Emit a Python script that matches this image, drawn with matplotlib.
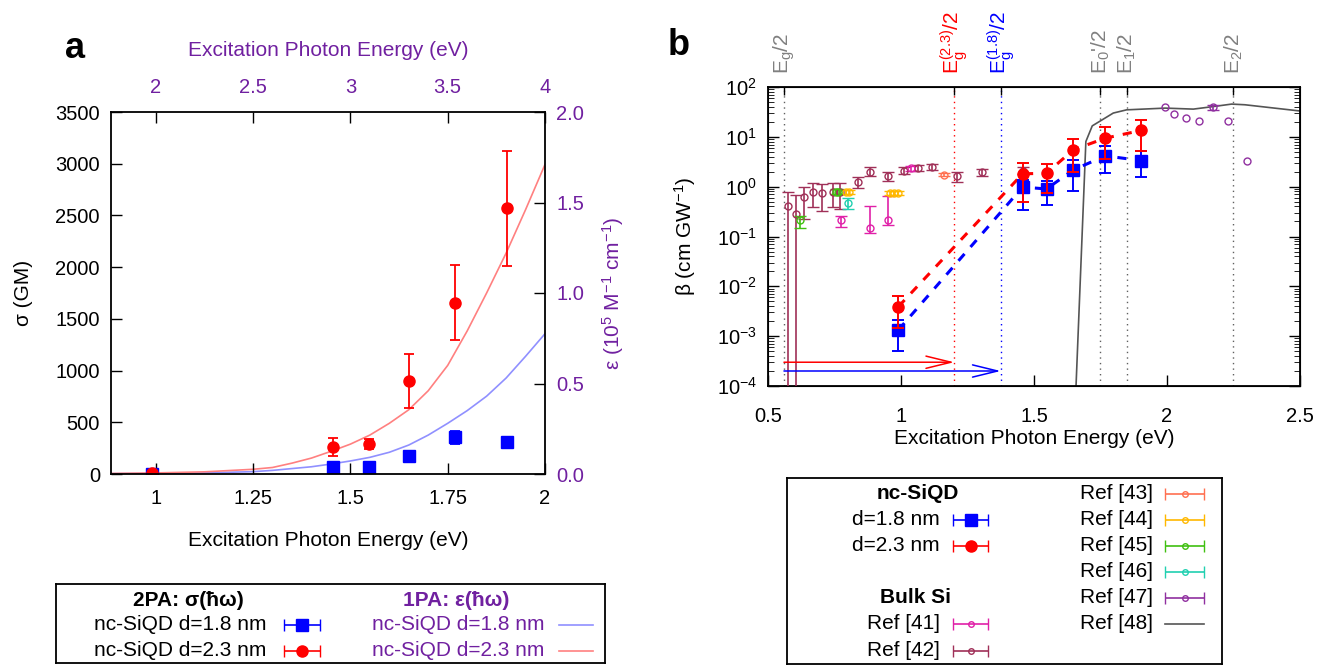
import matplotlib
matplotlib.use("Agg")
import matplotlib.pyplot as plt
import numpy as np

plt.rcParams["font.family"] = ["Liberation Sans", "DejaVu Sans"]
plt.rcParams["mathtext.fontset"] = "custom"
plt.rcParams["mathtext.rm"] = "Liberation Sans"
plt.rcParams["mathtext.it"] = "Liberation Sans:italic"
plt.rcParams["mathtext.bf"] = "Liberation Sans:bold"

PURPLE = "#7020a0"
GRAY = "#808080"
FS = 15
TFS = 14.5

# ---- panel a : 2PA cross section (bottom / left) ----
xa = [0.99, 1.456, 1.547, 1.651, 1.769, 1.903]
sig_18 = [0, 71, 65, 177, 355, 306]
sig_18_err = [5, 15, 15, 20, 65, 40]
sig_23 = [5, 264, 290, 899, 1657, 2570]
sig_23_err = [5, 87, 50, 265, 360, 555]

# ---- panel a : 1PA extinction (top / right) ----
eps_x_23 = [1.77, 2.0, 2.25, 2.5, 2.6, 2.7, 2.8, 2.9, 3.0, 3.1, 3.2, 3.3, 3.4, 3.5, 3.6, 3.7, 3.8, 3.9, 4.0]
eps_23 = [0.003, 0.006, 0.012, 0.026, 0.036, 0.06, 0.088, 0.125, 0.165, 0.215, 0.28, 0.355, 0.46,
          0.6, 0.79, 1.0, 1.22, 1.46, 1.71]
eps_x_18 = [1.77, 2.0, 2.25, 2.5, 2.6, 2.7, 2.8, 2.9, 3.0, 3.1, 3.2, 3.3, 3.4, 3.5, 3.6, 3.7, 3.8, 3.9, 4.0]
eps_18 = [0.002, 0.003, 0.006, 0.013, 0.02, 0.03, 0.04, 0.055, 0.072, 0.092, 0.12, 0.16, 0.215,
          0.28, 0.35, 0.43, 0.53, 0.65, 0.775]

# ---- panel b : nc-SiQD beta ----
xb = [0.99, 1.457, 1.547, 1.648, 1.768, 1.902]
beta_18 = [1.33e-3, 0.98, 0.90, 2.17, 4.15, 3.34]
beta_18_lo = [5.1e-4, 0.34, 0.43, 0.8, 1.92, 1.55]
beta_18_hi = [2.1e-3, 1.37, 1.32, 3.45, 6.4, 5.1]
beta_23 = [3.9e-3, 1.81, 1.86, 5.5, 9.4, 13.4]
beta_23_lo = [1.45e-3, 0.5, 0.75, 2.0, 3.6, 5.3]
beta_23_hi = [6.5e-3, 2.97, 2.87, 9.1, 15.4, 21.9]

# ---- panel b : bulk Si references ----
r41_x = [0.774, 0.883, 0.952, 1.037]
r41_y = [0.215, 0.147, 0.21, 2.35]
r41_lo = [0.158, 0.116, 0.17, 2.1]
r41_hi = [0.26, 0.40, 0.66, 2.6]

r42_x = [0.576, 0.605, 0.635, 0.67, 0.702, 0.743, 0.771, 0.837, 0.883, 0.95,
         1.012, 1.065, 1.115, 1.209, 1.303, 1.457]
r42_y = [0.40, 0.28, 0.63, 0.79, 0.74, 0.79, 0.78, 1.25, 2.0, 1.6,
         2.1, 2.35, 2.46, 1.6, 1.95, 2.1]
r42_lo = [1e-5, 1e-5, 0.225, 0.39, 0.32, 0.39, 0.36, 0.96, 1.67, 1.3,
          1.8, 2.05, 2.15, 1.25, 1.65, 1.8]
r42_hi = [0.78, 0.68, 1.0, 1.17, 1.12, 1.17, 1.17, 1.58, 2.46, 1.97,
          2.45, 2.7, 2.8, 2.0, 2.3, 2.45]

r43_x = [1.163]
r43_y = [1.73]
r43_lo = [1.62]
r43_hi = [1.84]

r44_x = [0.795, 0.805, 0.96, 0.975, 0.99]
r44_y = [0.78, 0.78, 0.75, 0.75, 0.75]
r44_lo = [0.71, 0.71, 0.69, 0.69, 0.69]
r44_hi = [0.85, 0.85, 0.82, 0.82, 0.82]

r45_x = [0.62, 0.755, 0.765]
r45_y = [0.21, 0.79, 0.79]
r45_lo = [0.145, 0.71, 0.71]
r45_hi = [0.26, 0.88, 0.88]

r46_x = [0.802]
r46_y = [0.47]
r46_lo = [0.36]
r46_hi = [0.58]

r47_x = [1.992, 2.027, 2.073, 2.12, 2.23, 2.3]
r47_y = [38.8, 29, 24.4, 21, 21, 3.3]
r47e_x = [2.174]
r47e_y = [39.4]
r47e_lo = [34.5]
r47e_hi = [44.5]

r48_x = [1.652, 1.658, 1.695, 1.719, 1.798, 1.848, 1.993, 2.099, 2.174, 2.243, 2.293, 2.5]
r48_y = [1e-5, 1e-4, 8.05, 16.6, 30, 34.8, 37.7, 36, 40.5, 45.4, 44, 33]

# energy markers on top of panel b
e_pos = [0.56, 1.2, 1.375, 1.75, 1.85, 2.25]
e_lab = [r"$\mathregular{E_g/2}$", r"$\mathregular{E_g^{(2.3)}/2}$", r"$\mathregular{E_g^{(1.8)}/2}$",
         r"E$_0$'/2", r"$\mathregular{E_1/2}$", r"$\mathregular{E_2/2}$"]
e_col = [GRAY, "red", "blue", GRAY, GRAY, GRAY]

C41, C42, C43, C44 = "#e020a8", "#a03058", "#ff7050", "#ffb800"
C45, C46, C47, C48 = "#40c010", "#20d0b0", "#9030a0", "#555555"

W, H = 1329, 667
fig = plt.figure(figsize=(W / 100, H / 100), dpi=100)


def box(l, t, r, b):
    return [l / W, 1 - b / H, (r - l) / W, (b - t) / H]


def style(ax):
    ax.tick_params(direction="in", length=8, width=1, labelsize=TFS, pad=8)
    for s in ax.spines.values():
        s.set_linewidth(1.3)


# ── Panel a ───────────────────────────────────────────────────────────────
ax_e = fig.add_axes(box(111, 112, 545, 474), frameon=False)
ax_a = fig.add_axes(box(111, 112, 545, 474))
ax_a.set_zorder(2)
ax_e.set_zorder(1)
ax_a.patch.set_visible(False)

ax_e.plot(eps_x_18, eps_18, color="#9090ff", lw=1.2)
ax_e.plot(eps_x_23, eps_23, color="#ff8080", lw=1.2)
ax_e.set_xlim(1.77, 4)
ax_e.set_ylim(0, 2)
ax_e.xaxis.tick_top()
ax_e.yaxis.tick_right()
ax_e.set_xticks([2, 2.5, 3, 3.5, 4])
ax_e.set_xticklabels(["2", "2.5", "3", "3.5", "4"])
ax_e.set_yticks([0, 0.5, 1, 1.5, 2])
ax_e.set_yticklabels(["0.0", "0.5", "1.0", "1.5", "2.0"])
style(ax_e)
ax_e.tick_params(labelcolor=PURPLE, color="black")
ax_e.tick_params(axis="x", pad=11)
ax_e.xaxis.set_label_position("top")
ax_e.yaxis.set_label_position("right")
ax_e.set_xlabel("Excitation Photon Energy (eV)", color=PURPLE, fontsize=FS)
ax_e.set_ylabel(r"ε (10$^5$ M$^{-1}$ cm$^{-1}$)", color=PURPLE, fontsize=FS)
ax_e.xaxis.set_label_coords(0.5, 1.155)
ax_e.yaxis.set_label_coords(1.127, 0.5)

ax_a.errorbar(xa, sig_18, yerr=sig_18_err, fmt="s", color="blue", ms=8,
              capsize=3.5, elinewidth=1.3, capthick=1.3)
ax_a.errorbar(xa, sig_23, yerr=sig_23_err, fmt="o", color="red", ms=8,
              capsize=3.5, elinewidth=1.3, capthick=1.3)
ax_a.set_xlim(0.885, 2)
ax_a.set_ylim(0, 3500)
ax_a.set_xticks([1, 1.25, 1.5, 1.75, 2])
ax_a.set_xticklabels(["1", "1.25", "1.5", "1.75", "2"])
ax_a.set_yticks(range(0, 3501, 500))
style(ax_a)
ax_a.tick_params(axis="x", pad=11)
ax_a.set_xlabel("Excitation Photon Energy (eV)", fontsize=FS)
ax_a.set_ylabel("σ (GM)", fontsize=FS)
ax_a.xaxis.set_label_coords(0.5, -0.157)
ax_a.yaxis.set_label_coords(-0.18, 0.5)

fig.text(65 / W, 1 - 58 / H, "a", fontsize=26, fontweight="bold")

# ── Panel b ───────────────────────────────────────────────────────────────
ax_b = fig.add_axes(box(768, 87, 1300, 386))
ax_b.set_yscale("log")
ax_b.set_xlim(0.5, 2.5)
ax_b.set_ylim(1e-4, 1e2)

for xp, c in zip(e_pos, e_col):
    ax_b.axvline(xp, ls=(0, (1, 3)), color=c if c != GRAY else "#606060", lw=1, zorder=1)

ax_b.plot(r48_x, r48_y, color=C48, lw=1.2, zorder=2)


def ref(x, y, lo, hi, c):
    y = np.array(y)
    ax_b.errorbar(x, y, yerr=[y - np.array(lo), np.array(hi) - y], fmt="o", mfc="none",
                  mec=c, ecolor=c, ms=5, capsize=4, elinewidth=1.2, capthick=1.2, mew=1, zorder=3)


ref(r42_x, r42_y, r42_lo, r42_hi, C42)
ref(r41_x, r41_y, r41_lo, r41_hi, C41)
ref(r43_x, r43_y, r43_lo, r43_hi, C43)
ref(r44_x, r44_y, r44_lo, r44_hi, C44)
ref(r45_x, r45_y, r45_lo, r45_hi, C45)
ref(r46_x, r46_y, r46_lo, r46_hi, C46)
ref(r47e_x, r47e_y, r47e_lo, r47e_hi, C47)
ax_b.plot(r47_x, r47_y, "o", mfc="none", mec=C47, ms=5, zorder=3)

ax_b.plot(xb, beta_23, ls=(0, (3, 3)), color="red", lw=2.2, zorder=4)
ax_b.plot(xb, beta_18, ls=(0, (3, 3)), color="blue", lw=2.2, zorder=4)
b18 = np.array(beta_18)
b23 = np.array(beta_23)
ax_b.errorbar(xb, b18, yerr=[b18 - np.array(beta_18_lo), np.array(beta_18_hi) - b18],
              fmt="s", color="blue", ms=8, capsize=4.5, elinewidth=1.4, capthick=1.4, zorder=5)
ax_b.errorbar(xb, b23, yerr=[b23 - np.array(beta_23_lo), np.array(beta_23_hi) - b23],
              fmt="o", color="red", ms=8, capsize=4.5, elinewidth=1.4, capthick=1.4, zorder=6)

ax_b.annotate("", xy=(e_pos[1], 3e-4), xytext=(e_pos[0], 3e-4),
              arrowprops=dict(arrowstyle="->,head_length=0.9,head_width=0.22", color="red",
                              lw=1.1, mutation_scale=20, shrinkA=0, shrinkB=0))
ax_b.annotate("", xy=(e_pos[2], 2e-4), xytext=(e_pos[0], 2e-4),
              arrowprops=dict(arrowstyle="->,head_length=0.9,head_width=0.22", color="blue",
                              lw=1.1, mutation_scale=20, shrinkA=0, shrinkB=0))

ax_b.set_xticks([0.5, 1, 1.5, 2, 2.5])
ax_b.set_xticklabels(["0.5", "1", "1.5", "2", "2.5"])
style(ax_b)
ax_b.tick_params(which="both", right=True, top=False)
ax_b.tick_params(which="minor", direction="in", length=4)
ax_b.tick_params(axis="x", which="minor", bottom=False)
ax_b.tick_params(axis="x", pad=15)
ax_b.set_xlabel("Excitation Photon Energy (eV)", fontsize=FS)
ax_b.set_ylabel(r"β (cm GW$^{-1}$)", fontsize=FS)
ax_b.xaxis.set_label_coords(0.5, -0.144)
ax_b.yaxis.set_label_coords(-0.132, 0.5)

axt = ax_b.twiny()
axt.set_xlim(0.5, 2.5)
axt.set_xticks(e_pos)
axt.set_xticklabels(e_lab, rotation=90, fontsize=FS)
axt.tick_params(direction="in", length=6, width=1, pad=9)
for lbl, c in zip(axt.get_xticklabels(), e_col):
    lbl.set_color(c)

fig.text(668 / W, 1 - 55 / H, "b", fontsize=26, fontweight="bold")

# ── Legend a ──────────────────────────────────────────────────────────────
la = fig.add_axes(box(56, 584, 605, 663))
la.set_xlim(56, 605)
la.set_ylim(663, 584)
la.set_xticks([])
la.set_yticks([])
for s in la.spines.values():
    s.set_linewidth(1.3)
la.text(188, 600, "2PA: σ(ħω)", ha="center", va="center", fontsize=FS, fontweight="bold")
la.text(456, 600, "1PA: ε(ħω)", ha="center", va="center", fontsize=FS, fontweight="bold", color=PURPLE)
for yy, lab, c, m in [(625, "nc-SiQD d=1.8 nm", "blue", "s"), (651, "nc-SiQD d=2.3 nm", "red", "o")]:
    la.text(266, yy, lab, ha="right", va="center", fontsize=FS)
    la.errorbar([301.5], [yy], xerr=[18], fmt=m, color=c, ms=8, capsize=4, elinewidth=1.2)
    la.text(544, yy, lab, ha="right", va="center", fontsize=FS, color=PURPLE)
    la.plot([559, 593], [yy, yy], color="#9090ff" if c == "blue" else "#ff8080", lw=1.2)

# ── Legend b ──────────────────────────────────────────────────────────────
lb = fig.add_axes(box(787, 478, 1222, 664))
lb.set_xlim(787, 1222)
lb.set_ylim(664, 478)
lb.set_xticks([])
lb.set_yticks([])
for s in lb.spines.values():
    s.set_linewidth(1.3)
lb.text(918, 494, "nc-SiQD", ha="center", va="center", fontsize=FS, fontweight="bold")
lb.text(915, 598, "Bulk Si", ha="center", va="center", fontsize=FS, fontweight="bold")
for yy, lab, c, m, filled in [(520, "d=1.8 nm", "blue", "s", True), (546, "d=2.3 nm", "red", "o", True),
                              (624, "Ref [41]", C41, "o", False), (651, "Ref [42]", C42, "o", False)]:
    lb.text(940, yy, lab, ha="right", va="center", fontsize=FS)
    lb.errorbar([970.5], [yy], xerr=[17.5], fmt=m, color=c, ms=8 if filled else 4,
                mfc=c if filled else "none", capsize=4, elinewidth=1.2)
for yy, lab, c in [(494, "Ref [43]", C43), (520, "Ref [44]", C44), (546, "Ref [45]", C45),
                   (572, "Ref [46]", C46), (598, "Ref [47]", C47)]:
    lb.text(1153, yy, lab, ha="right", va="center", fontsize=FS)
    lb.errorbar([1184.5], [yy], xerr=[19.5], fmt="o", color=c, ms=4, mfc="none", capsize=4, elinewidth=1.2)
lb.text(1153, 624, "Ref [48]", ha="right", va="center", fontsize=FS)
lb.plot([1165, 1204], [624, 624], color=C48, lw=1.2)

fig.savefig("out.png", dpi=100)
